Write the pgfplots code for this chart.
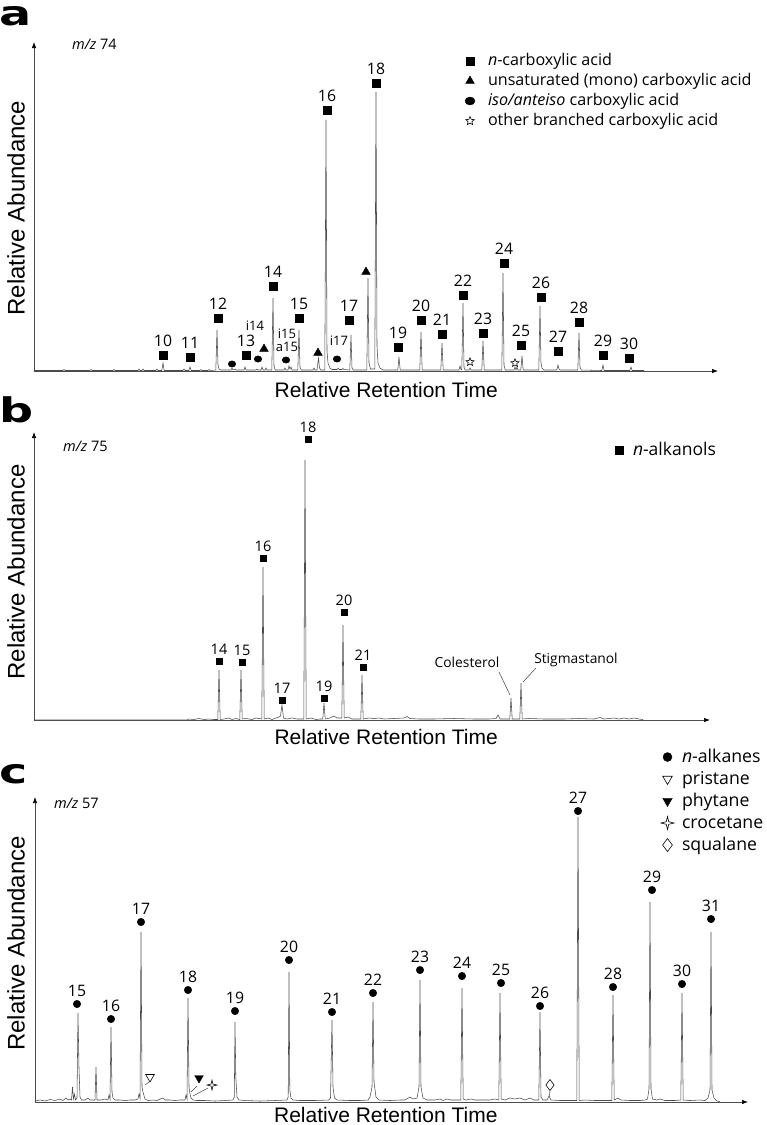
\documentclass[border=0pt]{standalone}
\usepackage{fontspec}
\setmainfont{Open Sans}
\newfontfamily\arialfont{Liberation Sans}
\newfontfamily\boldpanel{DejaVu Sans Bold}
\usepackage{graphicx}
\usepackage{pgfplots}
\pgfplotsset{compat=1.18}
\usetikzlibrary{arrows.meta}

\newcommand\numA{\fontsize{15.8}{18}\selectfont}
\newcommand\numB{\fontsize{14.5}{17}\selectfont}
\newcommand\colfont{\fontsize{13.8}{16}\selectfont}
\newcommand\smallA{\fontsize{13}{15}\selectfont}
\newcommand\legA{\fontsize{16.1}{19}\selectfont}
\newcommand\legB{\fontsize{17.5}{21}\selectfont}
\newcommand\legC{\fontsize{17.7}{21}\selectfont}
\newcommand\mzfont{\fontsize{14.5}{17}\selectfont}
\newcommand\labX{\arialfont\fontsize{21}{24}\selectfont}
\newcommand\labY{\arialfont\fontsize{24}{28}\selectfont}
\newcommand\panel[1]{\scalebox{1.4}[1]{\boldpanel\fontsize{34}{34}\selectfont #1}}

\pgfdeclareplotmark{ostar}{%
  \pgfpathmoveto{\pgfpointpolar{90}{\pgfplotmarksize}}%
  \pgfpathlineto{\pgfpointpolar{126}{0.45\pgfplotmarksize}}%
  \pgfpathlineto{\pgfpointpolar{162}{\pgfplotmarksize}}%
  \pgfpathlineto{\pgfpointpolar{198}{0.45\pgfplotmarksize}}%
  \pgfpathlineto{\pgfpointpolar{234}{\pgfplotmarksize}}%
  \pgfpathlineto{\pgfpointpolar{270}{0.45\pgfplotmarksize}}%
  \pgfpathlineto{\pgfpointpolar{306}{\pgfplotmarksize}}%
  \pgfpathlineto{\pgfpointpolar{342}{0.45\pgfplotmarksize}}%
  \pgfpathlineto{\pgfpointpolar{18}{\pgfplotmarksize}}%
  \pgfpathlineto{\pgfpointpolar{54}{0.45\pgfplotmarksize}}%
  \pgfpathclose
  \pgfusepathqstroke}
\pgfdeclareplotmark{ofour}{%
  \pgfpathmoveto{\pgfpointpolar{90}{\pgfplotmarksize}}%
  \pgfpathlineto{\pgfpointpolar{135}{0.28\pgfplotmarksize}}%
  \pgfpathlineto{\pgfpointpolar{180}{\pgfplotmarksize}}%
  \pgfpathlineto{\pgfpointpolar{225}{0.28\pgfplotmarksize}}%
  \pgfpathlineto{\pgfpointpolar{270}{\pgfplotmarksize}}%
  \pgfpathlineto{\pgfpointpolar{315}{0.28\pgfplotmarksize}}%
  \pgfpathlineto{\pgfpointpolar{0}{\pgfplotmarksize}}%
  \pgfpathlineto{\pgfpointpolar{45}{0.28\pgfplotmarksize}}%
  \pgfpathclose
  \pgfusepathqstroke}

\pgfplotsset{
  chrom/.style={
    axis lines=left,
    x=1pt, y=1pt,
    xmin=0, ymin=0,
    enlargelimits=false,
    xtick=\empty, ytick=\empty,
    clip=false,
    axis line style={draw=black!70, line width=0.7pt},
    x axis line style={-{Latex[length=6pt,width=4.5pt,color=black]}},
    y axis line style={-{Latex[length=6pt,width=4.5pt,color=black]}},
    xlabel={Relative Retention Time},
    ylabel={Relative Abundance},
    xlabel style={font=\labX, anchor=center, inner sep=0pt},
    ylabel style={font=\labY, anchor=center, inner sep=0pt},
    legend cell align=left,
    legend image code/.code={\draw[##1] plot coordinates {(0pt,0pt)};},
    legend style={draw=none, fill=none, inner sep=0pt, outer sep=0pt, anchor=north west},
  },
  trace/.style={forget plot, draw=black!70, line width=0.55pt, mark=none},
  lbl/.style={point meta=explicit symbolic, nodes near coords={\pgfplotspointmeta},
    every node near coord/.append style={font=#1, anchor=center, inner sep=0pt, text=black}},
}

\begin{document}
\begin{tikzpicture}
\useasboundingbox (0pt,0pt) rectangle (767pt,-1125pt);
\node[anchor=base west, inner sep=0pt] at (-1pt,-25pt) {\panel{a}};
\node[anchor=base west, inner sep=0pt] at (-1pt,-422pt) {\panel{b}};
\node[anchor=base west, inner sep=0pt] at (-1pt,-783pt) {\panel{c}};

% ---------------- panel a ----------------
\begin{axis}[chrom, at={(34pt,-371pt)}, anchor=south west, xmax=684, ymax=329,
  xlabel style={at={(axis description cs:0.515,-0.0578)}},
  ylabel style={at={(axis description cs:-0.0263,0.495)}},
  legend style={at={(axis cs:431,318.5)}, font=\legA, row sep=3pt, column sep=13pt,
    nodes={inner sep=0pt, text height=13pt, text depth=4pt}}]
\addplot[trace] coordinates {(0,0.5)(29,0.5)(30,1.5)(31,0.5)(56,0.5)(57,1.5)(58,0.5)(79,0.5)(80,1.5)(81,0.5)(104,0.5)(105,2)(106,0.5)(108,0.5)(109,2)(110,0.5)(122,0.5)(123,2)(124,0.5)(127.8,0.5)(129,8)(130.2,0.5)(149,0.5)(150,2)(151,0.5)(154.8,0.5)(156,4)(157.2,0.5)(166,0.5)(167,1.5)(168,0.5)(174,0.5)(175,1.5)(176,0.5)(181.8,1)(183,41)(184,6)(185,2)(187,1)(197,1)(198,3)(199,1)(201,2)(202,1)(210,1)(211,4)(212,1)(222,1)(223,2)(224,1)(227,1)(228,4)(229,1)(231,1)(232,3)(233,1)(237.8,1)(239,73)(240,5)(241.2,1)(250,1)(251,3)(252,1)(254,1)(255,5)(256,2)(257,4)(258,1)(263.8,1)(265,41)(266,4)(267.2,1)(279,1)(280,3)(281,1)(283,1)(284.5,13)(285.5,3)(287,1)(290.8,1)(292,251)(293,20)(294,8)(296,3)(298,1.5)(303,1.5)(304,3)(305,1.5)(308,1.5)(309,2.5)(310,1.5)(315.8,1)(317,36)(318,3)(319.2,1)(332.8,1)(334,93)(335,8)(336.5,2)(340.8,2)(342,279)(343,25)(344,8)(346,3)(349,1)(363.8,1)(365,14)(366.2,1)(385.8,1)(387,39)(388.2,1)(406.8,1)(408,28)(409.2,1)(425,1)(426,5)(427,1.5)(427.8,1.5)(429,68)(430,4)(431,1)(435,1)(436,3)(437,1)(447.8,1)(449,30)(450.2,1)(467.8,1)(469,98)(470,6)(471.2,1)(480,1)(481,4)(482,1)(483,4)(484,1)(486.8,1)(488,15)(489.2,1)(504.8,1)(506,65)(507,8)(508,3)(510,1)(522.8,1)(524,6)(525,2)(526.5,1)(543.8,1)(545,38)(546,4)(547.2,1)(567.8,0.5)(569,6)(570.2,0.5)(595.8,0.5)(597,4)(598.2,0.5)(610,0.5)};
\addplot[forget plot, only marks, mark=square*, mark size=4pt, black, lbl=\numA,
  every node near coord/.append style={yshift=14.5pt}] table[meta=lab] {
x y lab
129 16 10
156 14 11
184 53 12
212 16 13
239 85 14
265 53 15
293 261 16
315 51 17
342 288 18
364 24 19
387 51 20
408 37 21
429 76 22
449 38 23
470 108 24
487 26 25
507 74 26
524 20 27
545 49 28
569 16 29
595 13 30
};
\addplot[forget plot, only marks, mark=triangle*, mark size=5pt, black] coordinates {(230,22)(284,18)(332,99)};
\addplot[forget plot, only marks, mark=*, mark size=3.2pt, mark options={xscale=1.2}, black] coordinates {(198,7)(224,12)(252,11)(303,12)};
\addplot[forget plot, only marks, mark=ostar, mark size=4.2pt, mark options={line width=0.6pt}, black] coordinates {(436,9)(481,8)};
\node[font=\smallA, anchor=center] at (axis cs:221,45) {i14};
\node[font=\smallA, anchor=center] at (axis cs:253,37) {i15};
\node[font=\smallA, anchor=center] at (axis cs:253,24) {a15};
\node[font=\smallA, anchor=center] at (axis cs:305,30) {i17};
\node[font=\mzfont, anchor=base west, inner sep=0pt] at (axis cs:38,322) {\textit{m/z} 74};
\addlegendimage{only marks, mark=square*, mark size=4pt, black}
\addlegendentry{\textit{n}-carboxylic acid}
\addlegendimage{only marks, mark=triangle*, mark size=5pt, black}
\addlegendentry{unsaturated (mono) carboxylic acid}
\addlegendimage{only marks, mark=*, mark size=4pt, mark options={xscale=1.25}, black}
\addlegendentry{\textit{iso/anteiso} carboxylic acid}
\addlegendimage{only marks, mark=ostar, mark size=4.5pt, mark options={line width=0.6pt}, black}
\addlegendentry{other branched carboxylic acid}
\end{axis}

% ---------------- panel b ----------------
\begin{axis}[chrom, at={(34pt,-720pt)}, anchor=south west, xmax=676, ymax=288,
  xlabel style={at={(axis description cs:0.521,-0.059)}},
  ylabel style={at={(axis description cs:-0.0266,0.514)}},
  legend style={at={(axis cs:581,279)}, font=\legB, column sep=10pt,
    nodes={inner sep=0pt, text height=14pt, text depth=4pt}}]
\addplot[trace] coordinates {(0,0)(153,0)(155,1)(160,0.5)(165,1.5)(170,0.5)(175,1)(180,0.5)(183.8,0.5)(185,50)(186.2,0.5)(190,1)(195,2)(198,0.5)(202,1.5)(205.8,0.5)(207,50)(208.2,1)(212,1.5)(218,0.5)(222,2)(227.8,1)(229,153)(230.2,1)(234,2)(238,0.5)(242,2)(245,3)(246.5,4)(248,15)(249.5,2)(253,1)(258,2)(263,1)(269.8,1)(271,260)(272.2,1)(277,2)(282,0.5)(286,1)(288.8,1)(290,17)(291.2,1)(296,2)(300,4)(303,2)(307.8,2)(309,95)(310.2,2)(314,3)(318,1)(322,1)(326.8,1)(328,45)(329.2,1)(335,2)(340,1.5)(345,2)(350,1)(360,1.5)(370,2)(373,3.5)(376,1.5)(385,1)(400,1)(420,1.5)(440,1)(455,1)(462,1.5)(464,5)(466,1)(475.8,1)(477,22)(478.2,1)(485.8,1)(487,37)(488.2,1)(495,1.5)(510,1)(530,1)(545,1.5)(560,1)(566,2.5)(570,1)(580,2)(585,1)(590,2)(595,1)(600,2)(605,1)(609,0.5)};
\addplot[forget plot, only marks, mark=square*, mark size=3pt, black, lbl=\numB,
  every node near coord/.append style={yshift=12pt}] table[meta=lab] {
x y lab
185 59 14
208 58 15
229 162 16
248 20 17
274 281 18
290 22 19
310 108 20
329 53 21
};
\draw[black!75, line width=0.5pt] (axis cs:465,48) -- (axis cs:476,25);
\draw[black!75, line width=0.5pt] (axis cs:502,52) -- (axis cs:489,38);
\node[font=\colfont, anchor=center] at (axis cs:433,58) {Colesterol};
\node[font=\colfont, anchor=center] at (axis cs:542,60) {Stigmastanol};
\node[font=\mzfont, anchor=base west, inner sep=0pt] at (axis cs:29,269) {\textit{m/z} 75};
\addlegendimage{only marks, mark=square*, mark size=4pt, black}
\addlegendentry{\textit{n}-alkanols}
\end{axis}

% ---------------- panel c ----------------
\begin{axis}[chrom, at={(35pt,-1102pt)}, anchor=south west, xmax=713, ymax=305,
  xlabel style={at={(axis description cs:0.492,-0.043)}},
  ylabel style={at={(axis description cs:-0.0266,0.52)}},
  legend style={at={(axis cs:626,354.5)}, font=\legC, row sep=3pt, column sep=8pt,
    nodes={inner sep=0pt, text height=14.5pt, text depth=4.5pt}}]
\addplot[trace] coordinates {(0,1)(5,2)(10,1)(15,2.5)(20,1.5)(25,3)(28,1.5)(31,4)(33,2)(35,3)(36.5,2)(37.5,15)(38.5,3)(39.5,8)(40.5,2)(42,4)(43,89)(44,34)(45,5)(46.5,2)(50,2)(53,4)(55,2)(60,2)(61,35)(62,2)(66,2)(70,3)(73,2)(74,7)(75,3)(76,75)(77,10)(78,4)(80,2)(85,2)(90,1.5)(95,2)(100,2)(103,3)(104,8)(105,4)(106,170)(107,15)(108,10)(110,3)(113,1.5)(118,2)(122,1.5)(125,3)(128,4)(130,2)(135,2)(140,1.5)(145,2)(150,2)(151,7)(152,3)(153,104)(154,15)(155,8)(156,4)(158,2)(162,1.5)(170,1.5)(180,1)(190,1.5)(198,2)(199.3,5)(200,80)(200.8,25)(202,5)(204,2)(210,1.5)(225,1)(240,1.5)(252,2)(253.2,5)(254,130)(254.8,12)(256,4)(258,2)(265,1.5)(280,1.5)(294,2)(295.5,4)(297,82)(298,15)(299.5,4)(302,2)(315,1.5)(325,1.5)(333,2)(335,5)(337,15)(338,100)(339,20)(341,5)(344,2)(355,1.5)(365,2)(370,2)(375,5)(378,3)(382,4)(384,15)(385,122)(386,15)(388,4)(392,2)(400,2)(405,3)(408,1.5)(412,3)(416,2)(420,2)(425.8,2)(427,114)(428.2,3)(431,2)(436,3)(440,2)(446,2)(455,2)(460,3)(463.8,2)(465,109)(466.2,3)(470,2)(475,4)(480,3)(485,4)(490,2)(495,4)(499,2)(503.8,2)(505,90)(506,5)(508,2)(512,2)(514,6)(516,2)(525,1.5)(535,1.5)(541.8,1.5)(543,285)(544.2,1.5)(550,2)(560,1.5)(570,1.5)(576.8,1.5)(578,107)(579.2,2)(583,4)(586,2)(595,1.5)(605,1.5)(610,2)(612.5,3)(614,13)(615,200)(616,13)(617.5,3)(622,2)(625,3)(630,1.5)(640,1.5)(645.8,2)(647,109)(648.2,2)(655,1.5)(665,2)(670,1.5)(673,4)(675,12)(676,170)(677,12)(679,4)(682,1)(685,0.5)};
\addplot[forget plot, only marks, mark=*, mark size=3.75pt, black, lbl=\numA,
  every node near coord/.append style={yshift=13.5pt}] table[meta=lab] {
x y lab
42 98 15
76 83 16
106 180 17
153 112 18
200 91 19
254 142 20
297 90 21
338 109 22
385 132 23
427 126 24
466 119 25
505 96 26
543 291 27
578 115 28
617 212 29
647 118 30
676 183 31
};
\draw[black!75, line width=0.5pt] (axis cs:110,17) -- (axis cs:114,20);
\draw[black!75, line width=0.5pt] (axis cs:156,10) -- (axis cs:162,16);
\draw[black!75, line width=0.5pt] (axis cs:158,6) -- (axis cs:173,14);
\draw[black!75, line width=0.5pt] (axis cs:514,5) -- (axis cs:515,11);
\addplot[forget plot, only marks, mark=triangle, mark size=5pt, mark options={rotate=180, line width=0.6pt}, black] coordinates {(115,25)};
\addplot[forget plot, only marks, mark=triangle*, mark size=5pt, mark options={rotate=180}, black] coordinates {(164,24)};
\addplot[forget plot, only marks, mark=ofour, mark size=5pt, mark options={line width=0.6pt}, black] coordinates {(177,17)};
\addplot[forget plot, only marks, mark=diamond, mark size=5.5pt, mark options={line width=0.6pt}, black] coordinates {(515,17)};
\node[font=\mzfont, anchor=base west, inner sep=0pt] at (axis cs:19,294) {\textit{m/z} 57};
\addlegendimage{only marks, mark=*, mark size=4.5pt, black}
\addlegendentry{\textit{n}-alkanes}
\addlegendimage{only marks, mark=triangle, mark size=5.5pt, mark options={rotate=180, line width=0.6pt}, black}
\addlegendentry{pristane}
\addlegendimage{only marks, mark=triangle*, mark size=5.5pt, mark options={rotate=180}, black}
\addlegendentry{phytane}
\addlegendimage{only marks, mark=ofour, mark size=6.5pt, mark options={line width=0.6pt}, black}
\addlegendentry{crocetane}
\addlegendimage{only marks, mark=diamond, mark size=6.5pt, mark options={line width=0.6pt}, black}
\addlegendentry{squalane}
\end{axis}
\end{tikzpicture}
\end{document}
